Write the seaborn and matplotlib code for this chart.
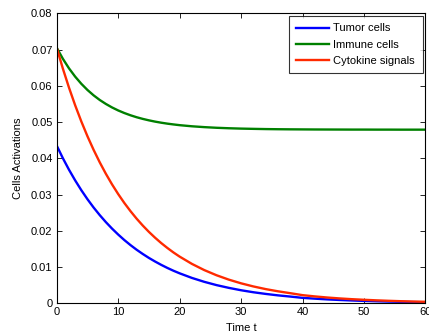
import numpy as np
import pandas as pd
import matplotlib
matplotlib.use("Agg")
import matplotlib.pyplot as plt
import seaborn as sns

# ---- data ----
t = [0, 1, 2, 3, 4, 5, 6, 7, 8, 9, 10, 11, 12, 13, 14, 15, 16, 17, 18, 19, 20,
     22, 24, 26, 28, 30, 32, 34, 36, 38, 40, 42, 44, 46, 48, 50, 52, 54, 56, 58, 60]
tumor = [0.04350, 0.04003, 0.03684, 0.03391, 0.03121, 0.02872, 0.02643, 0.02433,
         0.02239, 0.02061, 0.01897, 0.01745, 0.01606, 0.01478, 0.01361, 0.01252,
         0.01153, 0.01061, 0.00976, 0.00898, 0.00827,
         0.00700, 0.00593, 0.00502, 0.00426, 0.00360,
         0.00305, 0.00259, 0.00219, 0.00186, 0.00150, 0.00128, 0.00108, 0.00092,
         0.00078, 0.00066, 0.00056, 0.00047, 0.00040, 0.00034, 0.00029]
immune = [0.07050, 0.06745, 0.06481, 0.06253, 0.06056, 0.05885, 0.05737, 0.05609,
          0.05499, 0.05403, 0.05320, 0.05249, 0.05187, 0.05133, 0.05087, 0.05047,
          0.05012, 0.04982, 0.04956, 0.04934, 0.04914,
          0.04883, 0.04860, 0.04842, 0.04829, 0.04819,
          0.04812, 0.04806, 0.04802, 0.04799, 0.04797, 0.04795, 0.04794, 0.04793,
          0.04792, 0.04792, 0.04791, 0.04791, 0.04790, 0.04790, 0.04790]
cytokine = [0.07050, 0.06475, 0.05948, 0.05463, 0.05018, 0.04609, 0.04234, 0.03889,
            0.03572, 0.03281, 0.03014, 0.02768, 0.02543, 0.02335, 0.02145, 0.01970,
            0.01810, 0.01662, 0.01527, 0.01402, 0.01288,
            0.01087, 0.00917, 0.00774, 0.00653, 0.00551,
            0.00465, 0.00392, 0.00331, 0.00279, 0.00225, 0.00190, 0.00160, 0.00135,
            0.00114, 0.00097, 0.00082, 0.00069, 0.00058, 0.00049, 0.00042]
series_names = ["Tumor cells", "Immune cells", "Cytokine signals"]
colors = ["#0000FF", "#008000", "#FF2A00"]
x_ticks = [0, 10, 20, 30, 40, 50, 60]
y_ticks = [0, 0.01, 0.02, 0.03, 0.04, 0.05, 0.06, 0.07, 0.08]
y_tick_labels = ["0", "0.01", "0.02", "0.03", "0.04", "0.05", "0.06", "0.07", "0.08"]

plt.rcParams["font.family"] = ["Liberation Sans", "DejaVu Sans"]
plt.rcParams["font.size"] = 8

df = pd.DataFrame({
    "t": t * 3,
    "value": tumor + immune + cytokine,
    "series": [series_names[0]] * len(t) + [series_names[1]] * len(t) + [series_names[2]] * len(t),
})

fig = plt.figure(figsize=(4.29, 3.34), dpi=100)
ax = fig.add_axes([0.1322, 0.0919, 0.8596, 0.8683])

sns.lineplot(data=df, x="t", y="value", hue="series", hue_order=series_names,
             palette=colors, linewidth=1.7, ax=ax, legend=True, sort=False,
             estimator=None)

ax.set_xlim(0, 60)
ax.set_ylim(0, 0.08)
ax.set_xticks(x_ticks)
ax.set_xticklabels([str(v) for v in x_ticks])
ax.set_yticks(y_ticks)
ax.set_yticklabels(y_tick_labels)
ax.tick_params(direction="in", length=3.5, width=0.6, top=True, right=True,
               labelsize=8, colors="black", pad=3)
for s in ax.spines.values():
    s.set_visible(True)
    s.set_linewidth(0.8)
    s.set_color("black")
ax.set_facecolor("white")
ax.grid(False)

ax.set_xlabel("Time t", fontsize=8, labelpad=4)
ax.set_ylabel("Cells Activations", fontsize=8, labelpad=6)

handles, labels = ax.get_legend_handles_labels()
leg = ax.legend(handles, labels, loc="upper right", bbox_to_anchor=(0.992, 0.992),
                frameon=True, fancybox=False, edgecolor="black", fontsize=8,
                handlelength=2.9, handletextpad=0.4, labelspacing=0.55,
                borderpad=0.7, borderaxespad=0.0)
leg.get_frame().set_linewidth(0.8)
for line in leg.get_lines():
    line.set_linewidth(1.7)

fig.savefig("out.png", dpi=100, facecolor="white")
